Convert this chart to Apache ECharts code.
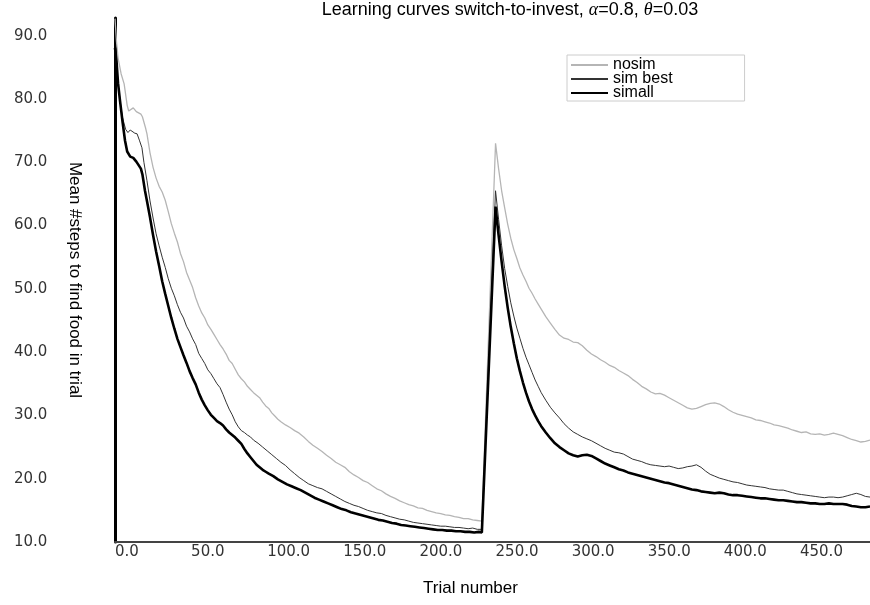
<!DOCTYPE html>
<html>
<head>
<meta charset="utf-8">
<script src="https://cdn.jsdelivr.net/npm/echarts@6/dist/echarts.min.js"></script>
<style>
  html, body { margin: 0; padding: 0; background: #fff; }
  #chart { width: 870px; height: 605px; }
</style>
</head>
<body>
<div id="chart"></div>
<script>
// tick values of the axes
const xTicks = [0, 50, 100, 150, 200, 250, 300, 350, 400, 450];
const yTicks = [10, 20, 30, 40, 50, 60, 70, 80, 90];

// [trial, mean steps]
const nosim = [
  [0,92.7],[1,89],[2,86.5],[4,84],[6,82.4],[8,79],[9,78.1],[10,78.3],[12,78.6],[14,78],[15,78.2],[17,77.6],[18,77.2],
  [20,75.5],[21,74.5],[23,71.5],[25,69.2],[27,67.5],[29,66.2],[31,65.3],[33,64],[35,62.2],[37,60.3],[39,58.8],
  [41,57.4],[43,55.6],[45,54.3],[47,52.6],[49,51.4],[51,50.2],[53,48.6],[55,47.3],[57,46.2],[59,45.4],[61,44.3],
  [63,43.6],[65,42.8],[67,42.0],[69,41.2],[71,40.5],[73,39.7],[75,38.7],[77,38.2],[79,37.3],[81,36.4],[83,35.8],
  [85,35.3],[87,34.6],[89,34.1],[91,33.6],[93,33.2],[95,32.8],[97,32.1],[99,31.5],[101,31.1],[103,30.4],[105,29.9],
  [107,29.4],[109,29.0],[112,28.5],[115,28.1],[118,27.6],[121,27.2],[124,26.6],[127,25.9],[130,25.3],[133,24.8],
  [136,24.3],[139,23.7],[142,23.2],[145,22.6],[148,22.2],[151,21.8],[154,21.1],[157,20.6],[160,20.2],[163,19.7],
  [166,19.4],[169,18.9],[172,18.4],[175,18.1],[178,17.6],[181,17.2],[184,16.9],[187,16.5],[190,16.2],[193,15.9],
  [196,15.7],[199,15.4],[202,15.3],[205,15.0],[208,14.8],[211,14.6],[214,14.5],[217,14.3],[220,14.2],[223,14.0],
  [226,13.9],[229,13.7],[232,13.7],[235,13.5],[238,13.4],[241,13.3],
  [250,73.0],[252,69],[254,65.5],[256,62.8],[258,60.2],[260,58],[262,56.2],[264,54.8],[266,53.3],[268,52.2],
  [270,51.2],[272,50.1],[274,49.3],[276,48.4],[278,47.6],[280,46.8],[283,45.6],[286,44.6],[289,43.6],[292,42.7],
  [295,42.2],[298,42.0],[301,41.6],[304,41.5],[307,41.0],[310,40.3],[313,39.7],[316,39.3],[319,38.8],[322,38.4],
  [325,37.9],[328,37.6],[331,37.1],[334,36.7],[337,36.3],[340,35.7],[343,35.2],[346,34.6],[349,34.2],[352,33.7],
  [355,33.4],[358,33.5],[361,33.2],[364,32.8],[367,32.4],[370,32.0],[373,31.6],[376,31.2],[379,31.0],[382,31.1],
  [385,31.4],[388,31.7],[391,31.9],[394,32.0],[397,31.8],[400,31.4],[403,30.9],[406,30.5],[409,30.2],[412,30.0],
  [415,29.8],[418,29.6],[421,29.3],[424,29.2],[427,29.0],[430,28.8],[433,28.5],[436,28.4],[439,28.2],[442,28.0],
  [445,27.7],[448,27.5],[451,27.3],[454,27.4],[457,27.1],[460,27.0],[463,27.1],[466,26.9],[469,27.0],[472,27.2],
  [475,27.0],[478,26.8],[481,26.5],[484,26.2],[487,26.0],[490,25.8],[493,25.9],[496,26.1]
];

const simBest = [
  [0,87.6],[1,85],[2,82.4],[4,78.5],[5,77],[7,75.2],[8.5,74.7],[10,75.1],[11,75],[13,74.6],[14.5,74.5],[16,73.5],
  [17.7,72.3],[19,70],[21,67.1],[23,63.9],[25,61.2],[27,58.7],[29,56.8],[31,55],[33,53.4],[35,51.6],[37,50.1],
  [39,48.9],[41,47.5],[43,46.3],[45,45.4],[47,44.1],[49,43.2],[51,42.1],[53,41.2],[55,39.8],[57,39.0],[59,38.2],
  [61,37.2],[63,36.6],[65,35.8],[67,35.0],[69,34.4],[71,33.3],[73,32.1],[75,31.0],[77,30.1],[79,29.0],[81,28.2],
  [83,27.6],[85,27.3],[87,26.9],[89,26.6],[91,26.1],[94,25.6],[97,25.0],[100,24.4],[103,23.8],[106,23.2],[109,22.6],
  [112,22.1],[115,21.4],[118,20.8],[121,20.2],[124,19.7],[127,19.2],[130,18.9],[133,18.6],[136,18.4],[139,18.0],
  [142,17.6],[145,17.2],[148,16.8],[151,16.4],[154,16.1],[157,15.8],[160,15.6],[163,15.3],[166,15.0],[169,14.8],
  [172,14.6],[175,14.5],[178,14.2],[181,14.0],[184,13.8],[187,13.6],[190,13.5],[193,13.3],[196,13.1],[199,13.0],
  [202,12.9],[205,12.8],[208,12.7],[211,12.6],[214,12.5],[217,12.5],[220,12.4],[223,12.3],[226,12.3],[229,12.2],
  [232,12.1],[235,12.2],[238,12.0],[241,12.0],
  [250,65.5],[252,61],[254,56.8],[256,53.2],[258,50.4],[260,47.8],[262,45.7],[264,43.8],[266,42.2],[268,40.6],
  [270,39.2],[272,38.0],[274,36.8],[276,35.6],[278,34.6],[280,33.6],[283,32.4],[286,31.3],[289,30.4],[292,29.6],
  [295,28.7],[298,28.0],[301,27.4],[304,27.0],[307,26.6],[310,26.3],[313,26.0],[316,25.6],[319,25.2],[322,24.8],
  [325,24.5],[328,24.2],[331,24.1],[334,23.9],[337,23.5],[340,23.1],[343,22.9],[346,22.7],[349,22.4],[352,22.2],
  [355,22.1],[358,22.0],[361,21.9],[364,22.0],[367,21.8],[370,21.6],[373,21.7],[376,21.9],[379,22.0],[382,22.2],
  [385,21.8],[388,21.2],[391,20.7],[394,20.4],[397,20.1],[400,19.9],[403,19.7],[406,19.5],[409,19.4],[412,19.2],
  [415,19.0],[418,18.9],[421,18.8],[424,18.7],[427,18.6],[430,18.4],[433,18.3],[436,18.2],[439,18.2],[442,18.0],
  [445,17.8],[448,17.6],[451,17.5],[454,17.4],[457,17.3],[460,17.2],[463,17.1],[466,17.0],[469,17.1],[472,17.1],
  [475,17.0],[478,17.1],[481,17.3],[484,17.5],[487,17.7],[490,17.5],[493,17.2],[496,17.1]
];

const simAll = [
  [0,88.1],[1,86],[1.3,84.9],[2,82.5],[3.3,79.7],[5,76.3],[6.6,73.4],[8,71.7],[8.5,71.4],[10,70.9],[12,70.7],
  [14,70.1],[15,69.8],[17,69.0],[18,68.1],[19.7,65.5],[21,63.9],[23,61.3],[25,58.5],[27,55.9],[29,53.6],[31,51.2],
  [33,49.2],[35,47.3],[37,45.4],[39,43.7],[41,42.1],[43,40.8],[45,39.5],[47,38.3],[49,37.0],[51,35.9],[53,34.9],
  [55,33.6],[57,32.5],[59,31.6],[61,30.8],[63,30.1],[65,29.6],[67,29.1],[69,28.8],[71,28.4],[73,27.8],[75,27.3],
  [77,26.9],[79,26.5],[81,26.0],[83,25.5],[85,24.7],[87,24.0],[89,23.4],[91,22.8],[93,22.2],[95,21.8],[97,21.4],
  [99,21.1],[101,20.8],[104,20.4],[107,19.9],[110,19.5],[113,19.1],[116,18.8],[119,18.5],[122,18.2],[125,17.8],
  [128,17.4],[131,17.0],[134,16.7],[137,16.4],[140,16.1],[143,15.8],[146,15.5],[149,15.2],[152,15.0],[155,14.7],
  [158,14.5],[161,14.3],[164,14.1],[167,13.9],[170,13.7],[173,13.5],[176,13.4],[179,13.2],[182,13.0],[185,12.9],
  [188,12.7],[191,12.6],[194,12.5],[197,12.4],[200,12.3],[203,12.2],[206,12.1],[209,12.0],[212,11.9],[215,11.9],
  [218,11.8],[221,11.8],[224,11.7],[227,11.7],[230,11.6],[233,11.6],[236,11.5],[239,11.6],[241,11.5],
  [250,63.0],[252,58.5],[254,54.3],[256,50.4],[258,47.0],[260,44.0],[262,41.4],[264,39.0],[266,37.0],[268,35.2],
  [270,33.6],[272,32.2],[274,31.0],[276,30.0],[278,29.1],[280,28.3],[283,27.3],[286,26.4],[289,25.6],[292,25.0],
  [295,24.5],[298,24.0],[301,23.7],[304,23.5],[307,23.7],[310,23.8],[313,23.6],[316,23.2],[319,22.8],[322,22.4],
  [325,22.1],[328,21.8],[331,21.5],[334,21.3],[337,21.0],[340,20.8],[343,20.6],[346,20.4],[349,20.2],[352,20.0],
  [355,19.8],[358,19.6],[361,19.4],[364,19.3],[367,19.1],[370,18.9],[373,18.7],[376,18.5],[379,18.3],[382,18.2],
  [385,18.0],[388,17.9],[391,17.8],[394,17.7],[397,17.8],[400,17.7],[403,17.5],[406,17.4],[409,17.4],[412,17.3],
  [415,17.2],[418,17.1],[421,17.0],[424,16.9],[427,16.9],[430,16.8],[433,16.7],[436,16.6],[439,16.6],[442,16.5],
  [445,16.4],[448,16.3],[451,16.3],[454,16.2],[457,16.1],[460,16.1],[463,16.0],[466,16.0],[469,16.1],[472,16.0],
  [475,16.0],[478,16.0],[481,15.9],[484,15.7],[487,15.6],[490,15.5],[493,15.5],[496,15.6]
];

const chart = echarts.init(document.getElementById('chart'), null, { renderer: 'canvas' });

const option = {
  animation: false,
  backgroundColor: '#fff',
  title: {
    text: '{n|Learning curves switch-to-invest, }{i|α}{n|=0.8, }{i|θ}{n|=0.03}',
    left: 510,
    top: 1,
    textAlign: 'center',
    padding: 0,
    textStyle: {
      fontWeight: 'normal',
      rich: {
        n: { fontFamily: 'Liberation Sans', fontSize: 18, fontWeight: 'normal', color: '#000' },
        i: { fontFamily: 'Liberation Serif', fontStyle: 'italic', fontSize: 18, fontWeight: 'normal', color: '#000' }
      }
    }
  },
  legend: {
    orient: 'vertical',
    left: 567,
    top: 55,
    padding: [2, 72, 0, 3],
    itemGap: -2,
    itemWidth: 37,
    itemHeight: 13,
    borderColor: '#ccc',
    borderWidth: 1,
    itemStyle: { opacity: 0 },
    textStyle: { fontFamily: 'Liberation Sans', fontSize: 16, color: '#000' },
    data: ['nosim', 'sim best', 'simall']
  },
  grid: { left: 115, right: 0, top: 18, bottom: 63, containLabel: false, outerBoundsMode: 'none' },
  xAxis: {
    type: 'value',
    min: 0,
    max: 496,
    interval: 50,
    name: 'Trial number',
    nameLocation: 'middle',
    nameGap: 38,
    nameMoveOverlap: false,
    nameTextStyle: { fontFamily: 'Liberation Sans', fontSize: 17, color: '#000', padding: [0, 44, 0, 0] },
    axisLine: { lineStyle: { color: '#444', width: 2 } },
    axisTick: { show: false },
    splitLine: { show: false },
    axisLabel: {
      align: 'left',
      margin: 3,
      fontFamily: 'DejaVu Sans',
      fontSize: 15,
      color: '#333',
      formatter: v => xTicks.includes(v) ? v.toFixed(1) : ''
    }
  },
  yAxis: {
    type: 'value',
    min: 10,
    max: 92.8,
    interval: 10,
    name: 'Mean #steps to find food in trial',
    nameLocation: 'middle',
    nameRotate: -90,
    nameGap: 32,
    nameMoveOverlap: false,
    nameTextStyle: { fontFamily: 'Liberation Sans', fontSize: 17, color: '#000' },
    axisLine: { show: true, lineStyle: { color: '#000', width: 3 } },
    axisTick: { show: false },
    splitLine: { show: false },
    axisLabel: {
      align: 'left',
      margin: 101,
      fontFamily: 'DejaVu Sans',
      fontSize: 15,
      color: '#333',
      formatter: v => yTicks.includes(v) ? v.toFixed(1) : ''
    }
  },
  series: [
    {
      name: 'nosim', type: 'line', data: nosim, symbol: 'none',
      lineStyle: { color: '#b5b5b5', width: 1.3 }, itemStyle: { color: '#b5b5b5' }
    },
    {
      name: 'sim best', type: 'line', data: simBest, symbol: 'none',
      lineStyle: { color: '#333', width: 1 }, itemStyle: { color: '#333' }
    },
    {
      name: 'simall', type: 'line', data: simAll, symbol: 'none',
      lineStyle: { color: '#000', width: 2.6 }, itemStyle: { color: '#000' }
    }
  ]
};

chart.setOption(option);
</script>
</body>
</html>
